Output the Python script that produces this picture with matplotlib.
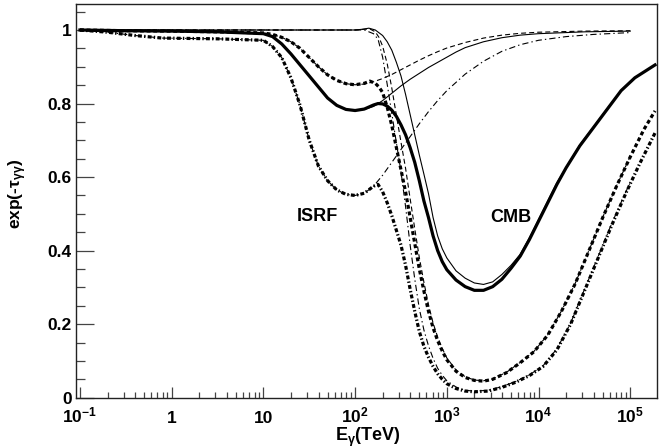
import numpy as np
import matplotlib
matplotlib.use("Agg")
import matplotlib.pyplot as plt
from matplotlib.ticker import FixedLocator, FixedFormatter, MultipleLocator, NullFormatter

plt.rcParams['font.family'] = ['Liberation Sans', 'DejaVu Sans']
plt.rcParams['font.weight'] = 'bold'
plt.rcParams['mathtext.fontset'] = 'custom'
plt.rcParams['mathtext.rm'] = 'Liberation Sans:bold'
plt.rcParams['mathtext.it'] = 'Liberation Sans:bold'
plt.rcParams['mathtext.bf'] = 'Liberation Sans:bold'
plt.rcParams['lines.scale_dashes'] = False

# values: log10(E / TeV) and exp(-tau)
# case a = solid, case b = dashed, case c = dash-dot
# thin lines: ISRF only and CMB only, thick lines: total

# --- solid ---
lg_isrf_a = [-1.0, -0.5, 0.0, 0.5, 1.0, 1.1, 1.2, 1.3, 1.4, 1.5, 1.6, 1.7, 1.8, 1.9, 2.0,
             2.1, 2.2, 2.3, 2.4, 2.5, 2.6, 2.7, 2.8, 2.9, 3.0, 3.1, 3.2,
             3.4, 3.6, 3.8, 4.0, 4.5, 5.0]
isrf_a = [1.0, 0.998, 0.997, 0.995, 0.99, 0.982, 0.962, 0.935, 0.905, 0.875, 0.845, 0.815, 0.795, 0.784, 0.781,
          0.784, 0.792, 0.808, 0.828, 0.848, 0.866, 0.882, 0.898, 0.912, 0.926, 0.94, 0.952,
          0.968, 0.979, 0.986, 0.99, 0.995, 0.997]

lg_cmb_a = [-1.0, 2.0, 2.08, 2.15, 2.22,
            2.3, 2.35, 2.4, 2.45, 2.5, 2.55, 2.6, 2.65, 2.7, 2.75, 2.8, 2.85, 2.9, 2.95, 3.0,
            3.1, 3.2, 3.3, 3.4, 3.5, 3.6, 3.7, 3.8, 3.9, 4.0,
            4.2, 4.45, 4.6, 4.75, 4.9, 5.0]
cmb_a = [1.0, 1.0, 1.002, 1.005, 1.0,
         0.985, 0.968, 0.945, 0.912, 0.875, 0.825, 0.77, 0.715, 0.66, 0.608, 0.555, 0.49, 0.44, 0.405, 0.38,
         0.345, 0.325, 0.312, 0.308, 0.315, 0.335, 0.36, 0.39, 0.435, 0.485,
         0.585, 0.688, 0.737, 0.787, 0.836, 0.86]

lg_tot_a = [-1.0, -0.5, 0.0, 0.5, 1.0, 1.1, 1.2, 1.3, 1.4, 1.5, 1.6, 1.7, 1.8, 1.9, 2.0,
            2.1, 2.2, 2.25, 2.3, 2.35, 2.4, 2.45, 2.5, 2.55, 2.6, 2.65, 2.7, 2.75, 2.8, 2.85, 2.9, 2.95, 3.0,
            3.1, 3.2, 3.3, 3.4, 3.5, 3.6, 3.7, 3.8, 3.9, 4.0, 4.1, 4.2, 4.3,
            4.45, 4.6, 4.75, 4.9, 5.05, 5.27]
tot_a = [1.0, 0.998, 0.997, 0.995, 0.99, 0.982, 0.962, 0.935, 0.905, 0.875, 0.845, 0.815, 0.795, 0.784, 0.781,
         0.785, 0.796, 0.80, 0.799, 0.793, 0.782, 0.765, 0.742, 0.715, 0.68, 0.64, 0.59, 0.535, 0.49, 0.44, 0.40, 0.37, 0.348,
         0.32, 0.302, 0.292, 0.292, 0.302, 0.322, 0.352, 0.385, 0.43, 0.48, 0.53, 0.58, 0.625,
         0.685, 0.735, 0.785, 0.835, 0.87, 0.905]

# --- dashed ---
lg_isrf_b = [-1.0, -0.5, 0.0, 0.5, 1.0, 1.1, 1.2, 1.3, 1.4, 1.5, 1.6, 1.7, 1.8, 1.9, 2.0,
             2.1, 2.2, 2.3, 2.4, 2.5, 2.6, 2.7, 2.8, 2.9, 3.0,
             3.2, 3.4, 3.6, 3.8, 4.0, 4.5, 5.0]
isrf_b = [1.0, 0.998, 0.997, 0.995, 0.992, 0.988, 0.98, 0.968, 0.95, 0.925, 0.90, 0.878, 0.863, 0.854, 0.851,
          0.853, 0.859, 0.868, 0.879, 0.892, 0.905, 0.918, 0.93, 0.941, 0.951,
          0.966, 0.978, 0.986, 0.991, 0.994, 0.997, 0.998]

lg_cmb_b = [-1.0, 2.0, 2.1, 2.16, 2.22, 2.26,
            2.3, 2.35, 2.4, 2.45, 2.5, 2.55, 2.6, 2.65, 2.7, 2.75, 2.8, 2.85, 2.9, 2.95, 3.0,
            3.1, 3.2, 3.3, 3.4, 3.5,
            3.65, 3.8, 3.95, 4.1, 4.25, 4.4, 4.55, 4.7, 4.85, 5.0]
cmb_b = [1.0, 1.0, 1.002, 1.003, 0.995, 0.98,
         0.956, 0.908, 0.842, 0.768, 0.695, 0.624, 0.541, 0.46, 0.381, 0.314, 0.253, 0.203, 0.165, 0.134, 0.108,
         0.075, 0.057, 0.048, 0.046, 0.051,
         0.069, 0.096, 0.126, 0.171, 0.236, 0.311, 0.401, 0.491, 0.576, 0.656]

lg_tot_b = [-1.0, -0.5, 0.0, 0.5, 1.0, 1.1, 1.2, 1.3, 1.4, 1.5, 1.6, 1.7, 1.8, 1.9, 2.0,
            2.1, 2.16, 2.22, 2.26, 2.3, 2.35, 2.4, 2.45, 2.5, 2.55, 2.6, 2.65, 2.7, 2.75, 2.8, 2.85, 2.9, 2.95, 3.0,
            3.1, 3.2, 3.3, 3.4, 3.5,
            3.65, 3.8, 3.95, 4.1, 4.25, 4.4, 4.55, 4.7, 4.85, 5.0, 5.15, 5.27]
tot_b = [1.0, 0.998, 0.997, 0.995, 0.992, 0.988, 0.98, 0.968, 0.95, 0.925, 0.90, 0.878, 0.863, 0.854, 0.851,
         0.855, 0.861, 0.855, 0.845, 0.83, 0.79, 0.74, 0.68, 0.62, 0.56, 0.49, 0.42, 0.35, 0.29, 0.235, 0.19, 0.155, 0.127, 0.103,
         0.072, 0.055, 0.047, 0.045, 0.05,
         0.068, 0.095, 0.125, 0.17, 0.235, 0.31, 0.40, 0.49, 0.575, 0.655, 0.73, 0.78]

# --- dash-dot ---
lg_isrf_c = [-1.0, -0.7, -0.4, -0.1, 0.5, 1.0,
             1.1, 1.2, 1.3, 1.4, 1.5, 1.6, 1.7, 1.8, 1.9, 2.0, 2.1, 2.2, 2.3, 2.4, 2.5, 2.6, 2.7, 2.8, 2.9, 3.0,
             3.2, 3.4, 3.6, 3.8, 4.0, 4.3, 4.6, 5.0]
isrf_c = [1.0, 0.994, 0.985, 0.978, 0.976, 0.972,
          0.955, 0.925, 0.87, 0.795, 0.70, 0.63, 0.59, 0.565, 0.553, 0.55, 0.556, 0.575, 0.605, 0.64, 0.675, 0.71, 0.745, 0.778, 0.808, 0.835,
          0.88, 0.915, 0.942, 0.96, 0.972, 0.982, 0.988, 0.993]

lg_cmb_c = [-1.0, 2.1, 2.2, 2.25,
            2.3, 2.35, 2.4, 2.45, 2.5, 2.55, 2.6, 2.65, 2.7, 2.75, 2.8, 2.85, 2.9, 2.95, 3.0,
            3.1, 3.2, 3.3,
            3.45, 3.6, 3.75, 3.9, 4.05, 4.2, 4.35, 4.5, 4.65, 4.8, 4.95, 5.0]
cmb_c = [1.0, 1.0, 0.99, 0.975,
         0.926, 0.852, 0.773, 0.693, 0.615, 0.52, 0.415, 0.323, 0.242, 0.184, 0.141, 0.107, 0.08, 0.061, 0.046,
         0.029, 0.02, 0.018,
         0.02, 0.03, 0.044, 0.062, 0.087, 0.133, 0.203, 0.294, 0.384, 0.475, 0.559, 0.585]

lg_tot_c = [-1.0, -0.7, -0.4, -0.1, 0.5, 1.0,
            1.1, 1.2, 1.3, 1.4, 1.5, 1.6, 1.7, 1.8, 1.9, 2.0, 2.1, 2.2,
            2.25, 2.3, 2.35, 2.4, 2.45, 2.5, 2.55, 2.6, 2.65, 2.7, 2.75, 2.8, 2.85, 2.9, 2.95, 3.0,
            3.1, 3.2, 3.3,
            3.45, 3.6, 3.75, 3.9, 4.05, 4.2, 4.35, 4.5, 4.65, 4.8, 4.95, 5.1, 5.27]
tot_c = [1.0, 0.994, 0.985, 0.978, 0.976, 0.972,
         0.955, 0.925, 0.87, 0.795, 0.70, 0.63, 0.59, 0.565, 0.553, 0.55, 0.556, 0.575,
         0.58, 0.56, 0.53, 0.495, 0.455, 0.415, 0.36, 0.295, 0.235, 0.18, 0.14, 0.11, 0.085, 0.065, 0.05, 0.038,
         0.025, 0.018, 0.016,
         0.018, 0.028, 0.042, 0.06, 0.085, 0.13, 0.2, 0.29, 0.38, 0.47, 0.555, 0.635, 0.72]

x_ticks = [0.1, 1, 10, 100, 1e3, 1e4, 1e5]
x_ticklabels = ['$10^{-1}$', '1', '10', '$10^{2}$', '$10^{3}$', '$10^{4}$', '$10^{5}$']
y_ticks = [0, 0.2, 0.4, 0.6, 0.8, 1]
y_ticklabels = ['0', '0.2', '0.4', '0.6', '0.8', '1']


def E(lg):
    return 10 ** np.array(lg)


fig = plt.figure(figsize=(6.62, 4.48), dpi=100)
ax = fig.add_axes([0.1148, 0.1123, 0.8776, 0.8777])

thin = 0.8
thick = 2.3
k = 'black'

# solid
ax.plot(E(lg_isrf_a), isrf_a, color=k, lw=thin)
ax.plot(E(lg_cmb_a), cmb_a, color=k, lw=thin)
ax.plot(E(lg_tot_a), tot_a, color=k, lw=thick)
# dashed
ax.plot(E(lg_isrf_b), isrf_b, color=k, lw=thin, dashes=(3.6, 2.2))
ax.plot(E(lg_cmb_b), cmb_b, color=k, lw=thin, dashes=(3.6, 2.2))
ax.plot(E(lg_tot_b), tot_b, color=k, lw=thick, dashes=(2.8, 2.0))
# dash-dot
ax.plot(E(lg_isrf_c), isrf_c, color=k, lw=thin, dashes=(4.5, 2.2, 1.0, 2.2))
ax.plot(E(lg_cmb_c), cmb_c, color=k, lw=thin, dashes=(4.5, 2.2, 1.0, 2.2))
ax.plot(E(lg_tot_c), tot_c, color=k, lw=thick, dashes=(2.8, 1.6, 1.0, 1.6))

ax.text(38.4, 0.481, 'ISRF', fontsize=13, fontweight='bold', ha='center', va='baseline')
ax.text(4940, 0.479, 'CMB', fontsize=13, fontweight='bold', ha='center', va='baseline')

ax.set_xscale('log')
ax.set_xlim(0.0905, 1.955e5)
ax.set_ylim(0, 1.0694)

ax.xaxis.set_major_locator(FixedLocator(x_ticks))
ax.xaxis.set_major_formatter(FixedFormatter(x_ticklabels))
minor_x = [m * 10.0 ** d for d in range(-1, 6) for m in range(2, 10)]
ax.xaxis.set_minor_locator(FixedLocator(minor_x))
ax.xaxis.set_minor_formatter(NullFormatter())
ax.yaxis.set_major_locator(FixedLocator(y_ticks))
ax.yaxis.set_major_formatter(FixedFormatter(y_ticklabels))
ax.yaxis.set_minor_locator(MultipleLocator(0.05))

tc = '#444444'
ax.tick_params(axis='y', which='major', direction='in', length=13, width=0.9, color=tc,
               labelsize=12.5, pad=3, right=False)
ax.tick_params(axis='y', which='minor', direction='in', length=6.5, width=0.9, color=tc, right=False)
ax.tick_params(axis='x', which='major', direction='in', length=8, width=0.9, color=tc,
               labelsize=12.5, pad=18, top=False)
ax.tick_params(axis='x', which='minor', direction='in', length=4.3, width=0.9, color=tc, top=False)
plt.setp(ax.get_xticklabels(), va='baseline')

for s in ax.spines.values():
    s.set_linewidth(1.0)
    s.set_color('#222222')

fig.text(368 / 662, 1 - 441 / 448, r'E$_{\gamma}$(TeV)', fontsize=13, fontweight='bold',
         ha='center', va='baseline')
fig.text(18 / 662, 1 - 194 / 448, r'exp(-$\tau_{\gamma\gamma}$)', fontsize=12.5, fontweight='bold',
         ha='center', va='center', rotation=90)

fig.savefig('out.png', dpi=100)
